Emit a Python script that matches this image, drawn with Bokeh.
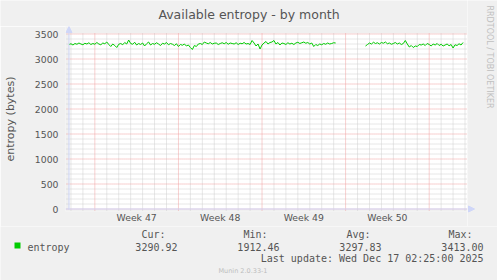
import math
import numpy as np
from bokeh.plotting import figure
from bokeh.layouts import column, row
from bokeh.models import (FixedTicker, CustomJSTickFormatter, Range1d, Arrow, NormalHead)
from bokeh.core.properties import value
from bokeh.embed import file_html
from bokeh.resources import INLINE

# ---------------- data ----------------
title_text = "Available entropy - by month"
y_label = "entropy (bytes)"
series_name = "entropy"
week_labels = ["Week 47", "Week 48", "Week 49", "Week 50"]
y_ticks = [0, 500, 1000, 1500, 2000, 2500, 3000, 3500]
stat_headers = ["Cur:", "Min:", "Avg:", "Max:"]
stat_values = ["3290.92", "1912.46", "3297.83", "3413.00"]
last_update = "Last update: Wed Dec 17 02:25:00 2025"
footer = "Munin 2.0.33-1"
watermark = "RRDTOOL / TOBI OETIKER"

# one sample every 4 hours from the start of the graph (None = no data)
sample_step_days = 4 / 24
entropy = [
    3290, 3305, 3280, 3310, 3295, 3320,
    3300, 3285, 3315, 3300, 3325, 3290,
    3310, 3295, 3330, 3300, 3285, 3320,
    3305, 3340, 3290, 3250, 3300, 3270,
    3230, 3295, 3310, 3285, 3330, 3300,
    3380, 3310, 3295, 3335, 3280, 3310,
    3290, 3320, 3260, 3305, 3340, 3280,
    3310, 3295, 3325, 3300, 3270, 3315,
    3300, 3330, 3285, 3310, 3295, 3270,
    3305, 3250, 3290, 3275, 3300, 3260,
    3280, 3230, 3190, 3270, 3250, 3300,
    3310, 3290, 3340, 3320, 3305, 3330,
    3300, 3315, 3320, 3290, 3310, 3325,
    3305, 3330, 3295, 3320, 3310, 3300,
    3325, 3290, 3315, 3305, 3330, 3300,
    3310, 3290, 3370, 3320, 3260, 3300,
    3200, 3280, 3320, 3350, 3300, 3330,
    3340, 3370, 3300, 3330, 3280, 3320,
    3310, 3290, 3325, 3300, 3315, 3290,
    3320, 3335, 3310, 3325, 3340, 3315,
    3330, 3300, 3320, 3250, 3290, 3270,
    3300, 3285, 3310, 3295, 3320, 3300,
    3310, 3325, 3320, None, None, None,
    None, None, None, None, None, None,
    None, None, None, None, None, 3260,
    3290, 3320, 3300, 3335, 3310, 3325,
    3300, 3330, 3315, 3340, 3305, 3320,
    3295, 3310, 3330, 3300, 3320, 3290,
    3310, 3370, 3300, 3240, 3270, 3230,
    3260, 3250, 3290, 3280, 3300, 3270,
    3310, 3290, 3260, 3300, 3280, 3310,
    3270, 3295, 3260, 3280, 3300, 3265,
    3290, 3220, 3285, 3270, 3305, 3280,
    3330,
]

# ---------------- layout / style ----------------
W, H = 497, 280
TOP_H = 26                      # title strip height (canvas y 0..26)
MAIN_W = 467                    # chart figure width (canvas x 0..467)
MAIN_H = 226 - TOP_H            # chart figure height (canvas y 26..226)
FRAME_L, FRAME_B = 63, 211      # chart frame: x 63..467, y 26..211 (canvas px)
AX_X, AX_Y = 66.5, 208.5        # pixel centre of the y axis line / of value 0
PLOT_L, PLOT_R, PLOT_T, PLOT_B = 67, 467, 33, 209   # white plot area
PX_PER_DAY = 12.0
PX_PER_UNIT = 0.05

week_lines = [13 / 6 + 7 * k for k in range(5)]
day_lines = [1 / 6 + k for k in range(34) if (k - 2) % 7 != 0]
week_mids = [w + 3.5 for w in week_lines[:len(week_labels)]]
minor_y = [v for v in range(100, 3500, 100) if v % 500 != 0]

BG = "#f0f0f0"
AXIS = "#cfd6f8"
FONT = "#555555"
MGRID = "#f0a0a0"
GRID = "#cfcfcf"
GREEN = "#00cc00"
SANS = "DejaVu Sans"
MONO = "DejaVu Sans Mono"


def dx(px):     # canvas x -> days
    return (px - AX_X) / PX_PER_DAY


def dy(py):     # canvas y -> value
    return (AX_Y - py) / PX_PER_UNIT


def strip(width, height, x0, y0):
    f = figure(width=width, height=height, x_range=Range1d(x0, x0 + width),
               y_range=Range1d(y0 + height, y0), title=None, toolbar_location=None,
               output_backend="svg", x_axis_location=None, y_axis_location=None,
               min_border=0, background_fill_color=BG, border_fill_color=BG,
               outline_line_color=None)
    f.grid.visible = False
    f.frame_align = False
    return f


# ---- title strip ----
top = strip(MAIN_W, TOP_H, 0, 0)
top.text(x=[248.5], y=[13.9], text=[title_text], text_font=value(SANS),
         text_font_size=value("12.5px"), text_color=FONT, text_align="center",
         text_baseline="middle")

# ---- chart ----
x = np.arange(len(entropy)) * sample_step_days
y = np.array([np.nan if v is None else v for v in entropy], dtype=float)

p = figure(width=MAIN_W, height=MAIN_H, title=None, toolbar_location=None,
           output_backend="svg",
           x_range=Range1d(dx(FRAME_L), dx(MAIN_W)), y_range=Range1d(dy(FRAME_B), dy(TOP_H)),
           min_border_left=FRAME_L, min_border_right=0, min_border_top=0,
           min_border_bottom=TOP_H + MAIN_H - FRAME_B,
           background_fill_color=BG, border_fill_color=BG, outline_line_color=None)
p.frame_align = False
p.grid.visible = False

yax = p.yaxis[0]
yax.ticker = FixedTicker(ticks=y_ticks, minor_ticks=minor_y)
yax.axis_line_color = None
yax.major_tick_line_color = None
yax.minor_tick_line_color = None
yax.major_tick_out = 0
yax.major_tick_in = 0
yax.major_label_standoff = 3
yax.major_label_text_font = SANS
yax.major_label_text_font_size = "9.3px"
yax.major_label_text_color = FONT
yax.axis_label = y_label
yax.axis_label_text_font = SANS
yax.axis_label_text_font_size = "11px"
yax.axis_label_text_font_style = "normal"
yax.axis_label_text_color = FONT
yax.axis_label_standoff = 15

xax = p.xaxis[0]
xax.ticker = FixedTicker(ticks=week_mids)
xax.formatter = CustomJSTickFormatter(args=dict(labels=week_labels),
                                      code="return labels[index] || '';")
xax.axis_line_color = None
xax.major_tick_line_color = None
xax.minor_tick_line_color = None
xax.major_tick_out = 0
xax.major_tick_in = 0
xax.major_label_standoff = 0
xax.major_label_text_font = SANS
xax.major_label_text_font_size = "9.3px"
xax.major_label_text_color = FONT

# white plot area
p.quad(left=[dx(PLOT_L)], right=[dx(PLOT_R)], top=[dy(PLOT_T)], bottom=[dy(PLOT_B)],
       fill_color="white", line_color=None)

# dotted rrdtool grid (from the tick lists), slightly protruding as ticks
hx0, hx1 = dx(64), dx(PLOT_R)
vy0, vy1 = dy(PLOT_T), dy(210)
p.segment(x0=[hx0] * len(minor_y), x1=[hx1] * len(minor_y), y0=minor_y, y1=minor_y,
          line_color=GRID, line_width=1, line_dash="1 1")
p.segment(x0=day_lines, x1=day_lines, y0=[vy0] * len(day_lines), y1=[vy1] * len(day_lines),
          line_color=GRID, line_width=1, line_dash="1 1")
p.segment(x0=[hx0] * len(y_ticks), x1=[hx1] * len(y_ticks), y0=y_ticks, y1=y_ticks,
          line_color=MGRID, line_width=1, line_dash="1 1")
p.segment(x0=week_lines, x1=week_lines, y0=[vy0] * len(week_lines),
          y1=[vy1] * len(week_lines), line_color=MGRID, line_width=1, line_dash="1 1")

# data
p.line(x, y, line_color=GREEN, line_width=1)

# axis lines (rrdtool style, with arrow head on the y axis)
p.add_layout(Arrow(x_start=0, y_start=dy(PLOT_B), x_end=0, y_end=dy(TOP_H),
                   line_color=AXIS, line_width=1,
                   end=NormalHead(size=6, fill_color=AXIS, line_color=AXIS, line_width=1)))
p.add_layout(Arrow(x_start=dx(FRAME_L), y_start=0, x_end=dx(MAIN_W), y_end=0,
                   line_color=AXIS, line_width=1, end=None))

# ---- right strip: watermark + x axis arrow head ----
wm = strip(W - MAIN_W, TOP_H + MAIN_H, MAIN_W, 0)
wm.text(x=[488.8], y=[5], text=[watermark], text_font=value(SANS),
        text_font_size=value("8px"), text_color="#c0c0c0", text_align="left",
        text_baseline="middle", angle=-math.pi / 2)
wm.segment(x0=[MAIN_W], x1=[469], y0=[AX_Y], y1=[AX_Y], line_color=AXIS, line_width=1)
wm.patch(x=[468, 474, 468], y=[AX_Y - 3, AX_Y, AX_Y + 3], fill_color=AXIS, line_color=AXIS,
         line_width=1)

# ---- legend strip ----
leg = strip(W, H - TOP_H - MAIN_H, 0, TOP_H + MAIN_H)
mono = dict(text_font=value(MONO), text_font_size=value("10px"), text_color=FONT,
            text_baseline="middle")
header_x = [141, 243, 346, 448]
value_right = [177, 279, 381, 483]
leg.text(x=header_x, y=[234.3] * 4, text=stat_headers, text_align="left", **mono)
leg.text(x=value_right, y=[246.6] * 4, text=stat_values, text_align="right", **mono)
leg.text(x=[27], y=[246.6], text=[series_name], text_align="left", **mono)
leg.quad(left=[14], right=[20], top=[242], bottom=[248], fill_color=GREEN, line_color=None)
leg.text(x=[483], y=[258], text=[last_update], text_align="right", **mono)
leg.text(x=[242.5], y=[270], text=[footer], text_font=value(SANS),
         text_font_size=value("6.5px"), text_color="#bdbdbd", text_align="center",
         text_baseline="middle")

layout = column(row(column(top, p, spacing=0), wm, spacing=0), leg, spacing=0)
open("out.html", "w").write(file_html(layout, INLINE))
